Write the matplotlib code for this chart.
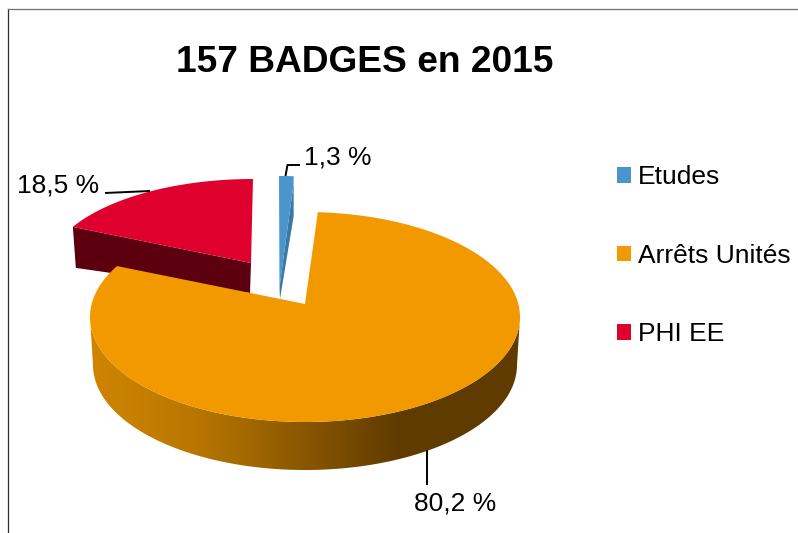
import numpy as np
import matplotlib
matplotlib.use("Agg")
import matplotlib.pyplot as plt
from matplotlib.patches import Polygon, Rectangle
from matplotlib.colors import LinearSegmentedColormap

plt.rcParams['font.family'] = ['Liberation Sans', 'DejaVu Sans']

# --- data ---
categories = ["Etudes", "Arrêts Unités", "PHI EE"]
values = [1.3, 80.2, 18.5]
value_labels = ["1,3 %", "80,2 %", "18,5 %"]
title = "157 BADGES en 2015"

# --- style ---
top_colors = ["#4A96CC", "#F29900", "#E0002E"]
wall_colors = ["#3A78A6", None, "#5C0010"]
W, H = 798, 533

fig = plt.figure(figsize=(W / 100, H / 100), dpi=100)
ax = fig.add_axes([0, 0, 1, 1])
ax.set_xlim(0, W)
ax.set_ylim(H, 0)
ax.axis("off")

# per wedge ellipse: cx, cy, rx, ry, apex x, apex y
geom = [
    (279.0, 286.0, 245.0, 110.0, 279.5, 287.0),
    (305.0, 317.0, 215.0, 105.0, 305.0, 304.0),
    (253.0, 272.0, 206.0, 93.0, 251.0, 263.0),
]

def warp(t):
    """Perspective distortion of the drawn angle (t in degrees clockwise from 12 o'clock)."""
    return t - 7.7 * np.sin(np.radians(2 * t))

def rim(g, a, b, n=200):
    t = np.radians(warp(np.linspace(a, b, n)))
    return np.column_stack([g[0] + g[2] * np.sin(t), g[1] - g[3] * np.cos(t)])

edges = np.concatenate([[0], np.cumsum(values)]) / np.sum(values) * 360.0

# Red wedge: inner wall then top
g = geom[2]
r = rim(g, edges[2], edges[3])
left = r[0]
ax.add_patch(Polygon([left, (left[0] + 3, left[1] + 41), (g[4] - 1, g[5] + 30), (g[4], g[5])],
                     closed=True, fc=wall_colors[2], ec="none", zorder=2))
ax.add_patch(Polygon(np.vstack([r, [(g[4], g[5])]]), closed=True, fc=top_colors[2], ec="none", zorder=3))

# Blue wedge: wall then top
g = geom[0]
r = rim(g, edges[0], edges[1])
right = r[-1]
corner = (right[0], right[1] + 7)
ax.add_patch(Polygon([corner, (right[0], right[1] + 40), (g[4] + 0.5, g[5] + 12), (g[4], g[5])],
                     closed=True, fc=wall_colors[0], ec="none", zorder=2))
ax.add_patch(Polygon(np.vstack([r, [corner, (g[4], g[5])]]), closed=True, fc=top_colors[0], ec="none", zorder=3))

# Orange wedge: outer wall with gradient, then top
g = geom[1]
depth = 48.0
tt = np.radians(np.linspace(90, 270, 300))
upper = np.column_stack([g[0] + g[2] * np.sin(tt), g[1] - g[3] * np.cos(tt)])
lower = np.column_stack([g[0] + (g[2] - 3) * np.sin(tt), g[1] + depth - g[3] * np.cos(tt)])
wall = Polygon(np.vstack([upper, lower[::-1]]), closed=True, fc="none", ec="none",
               transform=ax.transData)
ax.add_patch(wall)
cmap = LinearSegmentedColormap.from_list(
    "wall", [(0, "#D08500"), (0.25, "#B87600"), (0.72, "#5F3B00"), (1, "#5F3B00")])
grad = np.linspace(0, 1, 430)[None, :]
im = ax.imshow(grad, extent=(90, 520, 480, 300), cmap=cmap, aspect="auto", zorder=4)
im.set_clip_path(wall)
ax.set_xlim(0, W)
ax.set_ylim(H, 0)

r = rim(g, edges[1], edges[2], 600)
ax.add_patch(Polygon(np.vstack([r, [(g[4], g[5])]]), closed=True, fc=top_colors[1], ec="none", zorder=5))

# Leader lines
lc = dict(color="black", lw=1.4, zorder=6, solid_capstyle="butt")
ax.plot([105, 150], [193, 191], **lc)
ax.plot([285.5, 287.5, 300], [176, 165, 165], **lc)
ax.plot([427, 427], [450, 485], **lc)

# Value labels
ax.text(304, 157, value_labels[0], fontsize=19, ha="left", va="center", zorder=7)
ax.text(414, 503, value_labels[1], fontsize=19, ha="left", va="center", zorder=7)
ax.text(17, 185, value_labels[2], fontsize=19, ha="left", va="center", zorder=7)

# Title
ax.text(364.5, 62.5, title, fontsize=26.7, fontweight="bold", ha="center", va="center")

# Frame
ax.plot([7.5, 7.5], [9, H], color="#303030", lw=0.9, clip_on=False)
ax.plot([7.5, W], [9, 9], color="#707070", lw=0.9, clip_on=False)

# Legend
handles = [Rectangle((0, 0), 1, 1, fc=c, ec="none") for c in top_colors]
ax.legend(handles, categories, loc="upper left", bbox_to_anchor=(617 / W, 1 - 165.5 / H),
          bbox_transform=fig.transFigure, frameon=False, fontsize=19,
          handlelength=0.54, handleheight=0.54, handletextpad=0.24,
          labelspacing=2.06, borderpad=0, borderaxespad=0)

fig.savefig("out.png", dpi=100)
